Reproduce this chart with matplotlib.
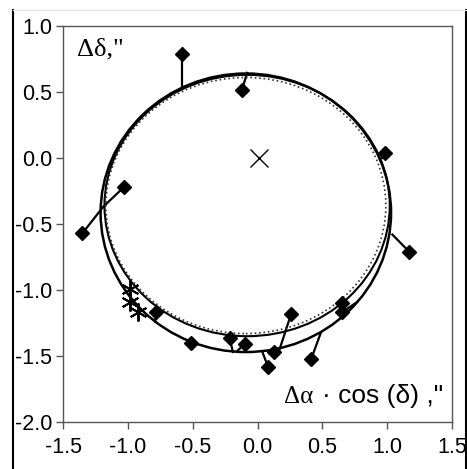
import matplotlib
matplotlib.use("Agg")
import matplotlib.pyplot as plt
from matplotlib.patches import Ellipse
from matplotlib.lines import Line2D

# ---- data ----
obs_x = [-0.58, -0.12, 0.985, 1.17, -1.35, -1.03, -0.78, -0.51, -0.215, -0.10, 0.08, 0.13, 0.26, 0.415, 0.65, 0.65]
obs_y = [0.79, 0.515, 0.04, -0.71, -0.57, -0.22, -1.17, -1.40, -1.36, -1.41, -1.58, -1.47, -1.18, -1.52, -1.10, -1.17]
fit_x = [-0.58, -0.08, 0.96, 1.04, -1.19, -1.19, -0.79, -0.51, -0.19, -0.16, 0.04, 0.12, 0.17, 0.49, 0.65, 0.77]
fit_y = [0.54, 0.645, 0.0, -0.58, -0.37, -0.37, -1.24, -1.39, -1.47, -1.465, -1.475, -1.465, -1.45, -1.32, -1.20, -1.09]

star_x = [-0.98, -0.98, -0.92]
star_y = [-0.99, -1.09, -1.17]

cross_x = [0.01]
cross_y = [0.0]

# orbit curves: centre x, centre y, semi-axis x, semi-axis y
curve_cx = [-0.09, -0.08, -0.09]
curve_cy = [-0.415, -0.36, -0.36]
curve_a = [1.12, 1.10, 1.08]
curve_b = [1.055, 0.99, 0.97]
curve_style = ["solid", "solid", "dotted"]

xticks = [-1.5, -1.0, -0.5, 0.0, 0.5, 1.0, 1.5]
yticks = [-2.0, -1.5, -1.0, -0.5, 0.0, 0.5, 1.0]

W, H = 467, 469
fig = plt.figure(figsize=(W / 100, H / 100), dpi=100)
ax = fig.add_axes([63 / W, 1 - 422 / H, (452 - 63) / W, (422 - 26) / H])

# residual lines
for x0, y0, x1, y1 in zip(obs_x, obs_y, fit_x, fit_y):
    ax.plot([x0, x1], [y0, y1], color="black", lw=1.6, zorder=2)

# orbit curves
lws = [1.8, 1.5, 1.2]
cols = ["black", "black", "#333333"]
for cx, cy, a, b, ls, lw, c in zip(curve_cx, curve_cy, curve_a, curve_b, curve_style, lws, cols):
    ax.add_patch(Ellipse((cx, cy), 2 * a, 2 * b, fill=False, edgecolor=c,
                         linestyle=ls, lw=lw, zorder=3))

# observations
ax.plot(obs_x, obs_y, linestyle="none", marker="D", ms=7.4, color="black", zorder=4)
ax.plot(star_x, star_y, linestyle="none", marker=(6, 2, 0), ms=13, mew=1.4,
        color="black", zorder=4)
ax.plot(cross_x, cross_y, linestyle="none", marker="x", ms=13.5, mew=1.0,
        color="black", zorder=4)

ax.set_xlim(-1.5, 1.5)
ax.set_ylim(-2.0, 1.0)
ax.set_xticks(xticks)
ax.set_yticks(yticks)
ax.set_xticklabels([f"{v:.1f}" for v in xticks])
ax.set_yticklabels([f"{v:.1f}" for v in yticks])

spine_col = "#555555"
for s in ax.spines.values():
    s.set_color(spine_col)
    s.set_linewidth(1.0)
ax.tick_params(direction="out", length=5, width=1.0, color=spine_col,
               labelsize=15.5, labelcolor="black")
ax.tick_params(axis="x", pad=6)
ax.tick_params(axis="y", pad=3)
for lab in ax.get_xticklabels() + ax.get_yticklabels():
    lab.set_family("Liberation Sans")

# axis captions inside the plot
tr = ax.transAxes
ax.text((77 - 63) / 389, (422 - 55) / 396, "Δδ,\"", transform=tr,
        fontsize=19, family="Liberation Serif", ha="left", va="baseline")
ax.text((284 - 63) / 389, (422 - 403) / 396, "Δα", transform=tr,
        fontsize=18, family="Liberation Serif", ha="left", va="baseline")
ax.text((443 - 63) / 389, (422 - 403) / 396, "· cos (δ) ,\"", transform=tr,
        fontsize=19, family="Liberation Sans", ha="right", va="baseline")

# outer frame lines
fig.add_artist(Line2D([13 / W, 13 / W], [0, 1 - 10 / H], color="black", lw=1.5,
                      transform=fig.transFigure))
fig.add_artist(Line2D([465.5 / W, 465.5 / W], [0, 1 - 10 / H], color="black", lw=1.5,
                      transform=fig.transFigure))
fig.add_artist(Line2D([13 / W, 465.5 / W], [1 - 10 / H, 1 - 10 / H], color="#e6e6e6",
                      lw=1.0, transform=fig.transFigure))

fig.savefig("out.png", dpi=100)
